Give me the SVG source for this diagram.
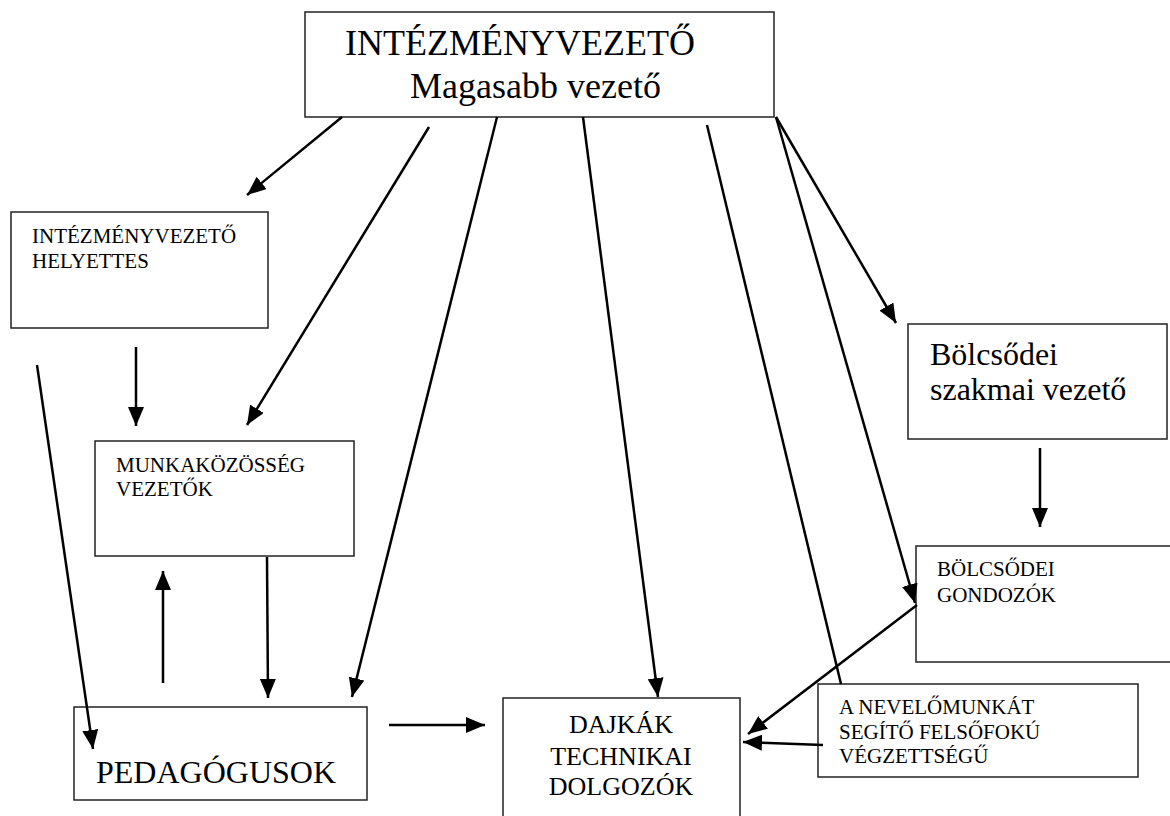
<svg xmlns="http://www.w3.org/2000/svg" width="1170" height="816" viewBox="0 0 1170 816">
<defs>
<style>
.box{fill:#fff;stroke:#222;stroke-width:1.5}
.t{font-family:"Liberation Serif","Times New Roman",serif;fill:#000}
.s21{font-size:21px}
.s32{font-size:32px}
.s36{font-size:36px}
.s26{font-size:26px}
.c{stroke:#000;stroke-width:2.5;fill:none}
</style>
<marker id="ah" markerUnits="userSpaceOnUse" markerWidth="20" markerHeight="16" refX="19" refY="8" orient="auto">
<path d="M0,0 L19,8 L0,16 z" fill="#000"/>
</marker>
</defs>
<rect width="1170" height="816" fill="#fff"/>
<g id="n-intezmenyvezeto">
<rect class="box" x="305" y="12" width="469" height="105"/>
<text class="t s36" x="345" y="55">INTÉZMÉNYVEZETŐ</text>
<text class="t s36" x="410" y="98">Magasabb vezető</text>
</g>
<g id="n-helyettes">
<rect class="box" x="11" y="212" width="257" height="116"/>
<text class="t s21" x="32" y="243">INTÉZMÉNYVEZETŐ</text>
<text class="t s21" x="32" y="268">HELYETTES</text>
</g>
<g id="n-munkakozosseg">
<rect class="box" x="95" y="441" width="259" height="115"/>
<text class="t s21" x="116" y="472">MUNKAKÖZÖSSÉG</text>
<text class="t s21" x="116" y="496">VEZETŐK</text>
</g>
<g id="n-bolcsodei-vezeto">
<rect class="box" x="908" y="324" width="259" height="115"/>
<text class="t s32" x="930" y="365">Bölcsődei</text>
<text class="t s32" x="930" y="400">szakmai vezető</text>
</g>
<g id="n-bolcsodei-gondozok">
<rect class="box" x="916" y="546" width="262" height="116"/>
<text class="t s21" x="937" y="576">BÖLCSŐDEI</text>
<text class="t s21" x="937" y="602">GONDOZÓK</text>
</g>
<g id="n-nevelomunkat">
<rect class="box" x="818" y="684" width="320" height="93"/>
<text class="t s21" x="839" y="714">A NEVELŐMUNKÁT</text>
<text class="t s21" x="839" y="739">SEGÍTŐ FELSŐFOKÚ</text>
<text class="t s21" x="839" y="763">VÉGZETTSÉGŰ</text>
</g>
<g id="n-pedagogusok">
<rect class="box" x="74" y="707" width="293" height="93"/>
<text class="t s32" x="96" y="783">PEDAGÓGUSOK</text>
</g>
<g id="n-dajkak">
<rect class="box" x="503" y="698" width="237" height="130"/>
<text class="t s26" x="621" y="733" text-anchor="middle">DAJKÁK</text>
<text class="t s26" x="621" y="765" text-anchor="middle">TECHNIKAI</text>
<text class="t s26" x="621" y="795" text-anchor="middle">DOLGOZÓK</text>
</g>
<g id="connectors">
<line class="c" x1="342" y1="117" x2="247" y2="195" marker-end="url(#ah)"/>
<line class="c" x1="429" y1="127" x2="247" y2="425" marker-end="url(#ah)"/>
<line class="c" x1="497" y1="117" x2="352" y2="697" marker-end="url(#ah)"/>
<line class="c" x1="583" y1="117" x2="658" y2="697" marker-end="url(#ah)"/>
<line class="c" x1="707" y1="125" x2="841" y2="684"/>
<line class="c" x1="776" y1="117" x2="915" y2="603" marker-end="url(#ah)"/>
<line class="c" x1="776" y1="117" x2="896" y2="323" marker-end="url(#ah)"/>
<line class="c" x1="136" y1="347" x2="136" y2="426" marker-end="url(#ah)"/>
<line class="c" x1="37" y1="365" x2="93" y2="749" marker-end="url(#ah)"/>
<line class="c" x1="163" y1="683" x2="163" y2="571" marker-end="url(#ah)"/>
<line class="c" x1="267" y1="557" x2="268" y2="698" marker-end="url(#ah)"/>
<line class="c" x1="389" y1="725" x2="485" y2="725" marker-end="url(#ah)"/>
<line class="c" x1="1040" y1="448" x2="1040" y2="527" marker-end="url(#ah)"/>
<line class="c" x1="917" y1="605" x2="748" y2="734" marker-end="url(#ah)"/>
<line class="c" x1="823" y1="745" x2="743" y2="742" marker-end="url(#ah)"/>
</g>
</svg>
